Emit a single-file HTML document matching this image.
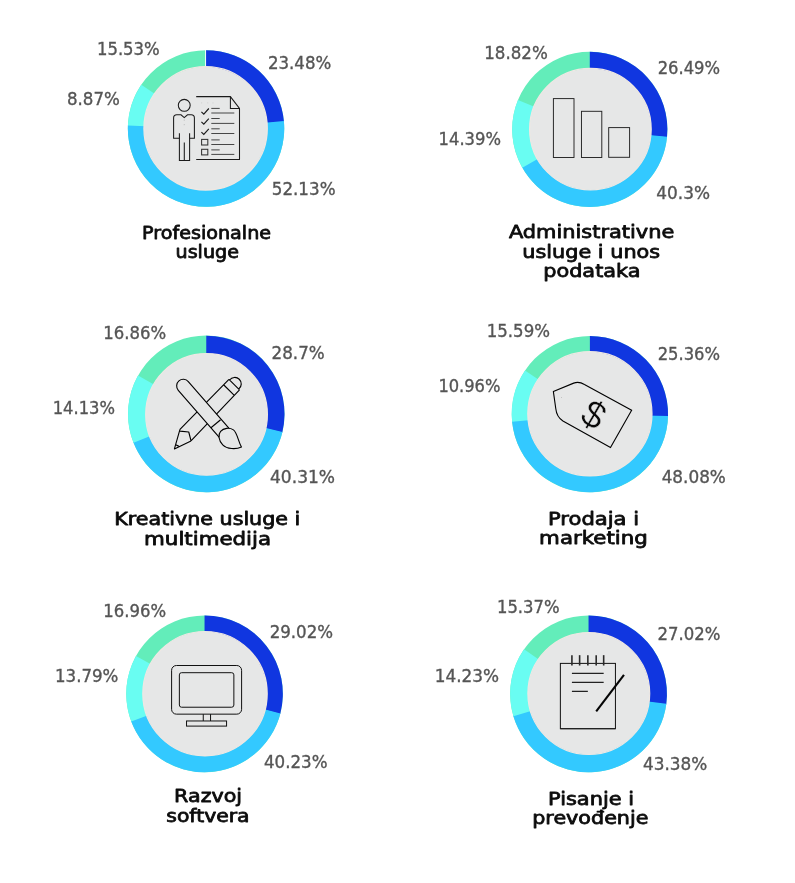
<!DOCTYPE html>
<html lang="hr"><head><meta charset="utf-8"><title>Kategorije usluga</title>
<style>
html,body{margin:0;padding:0;background:#fff;}
svg{display:block;}
.pct{font-family:"DejaVu Sans","Liberation Sans",sans-serif;font-size:17px;fill:#555;stroke:#555;stroke-width:0.35px;}
.ttl{font-family:"DejaVu Sans","Liberation Sans",sans-serif;font-size:18.2px;font-weight:400;fill:#0c0c0c;stroke:#0c0c0c;stroke-width:0.8px;stroke-linejoin:round;}
.ic{fill:none;stroke:#1a1a1a;stroke-width:1;}
</style></head><body>
<svg width="795" height="883" viewBox="0 0 795 883">
<rect width="795" height="883" fill="#fff"/>
<g>
<path d="M127.85,128.5A78.2,78.2 0 1 1 284.25,128.5A78.2,78.2 0 1 1 127.85,128.5ZM152.05,128.5A54,54 0 1 0 260.05,128.5A54,54 0 1 0 152.05,128.5Z" fill="#63edba" fill-rule="evenodd"/>
<path d="M206.05,50.30A78.2,78.2 0 0 1 283.95,121.71L259.85,123.81A54,54 0 0 0 206.05,74.50Z" fill="#1036e0"/>
<path d="M283.89,121.03A78.2,78.2 0 1 1 127.93,124.86L152.11,125.99A54,54 0 1 0 259.80,123.34Z" fill="#33c9ff"/>
<path d="M127.91,125.54A78.2,78.2 0 0 1 141.29,84.66L161.33,98.23A54,54 0 0 0 152.09,126.46Z" fill="#69fdf2"/>
<path d="M205.55,49.8V68.5" stroke="#fff" stroke-width="0.9" fill="none"/>
<circle cx="205.6" cy="128.4" r="61.70" fill="#e6e7e7" stroke="#eee8e3" stroke-width="1.2"/>
<g class="ic"><circle cx="184.25" cy="105.3" r="5.95" stroke-width="1.05"/><path d="M179.4,138.3H173.6V118.0Q173.6,114.8 176.8,114.8H181.0L184.25,117.6L187.5,114.8H191.2Q194.4,114.8 194.4,118.0V138.3H189.6" stroke-width="1.05"/><path d="M179.4,133.3V160.45H189.6V133.3M184.3,142.6V160.45" stroke-width="1.05"/><path d="M184.25,119.6v1M184.25,124.2v1" stroke="#999" stroke-width="0.6"/><path d="M196.2,96.6H230.4L239.5,108.4V159.5H196.2M230.4,96.6V108.4H239.5" stroke-width="1.05"/><path d="M201.3,102.9h0.8M207.4,102.9h0.8M212.6,102.9h0.8" stroke="#bbb" stroke-width="0.7"/><path d="M201.4,111.80L203.8,114.10L208.8,108.50" stroke-width="1.15"/><path d="M201.4,121.90L203.8,124.20L208.8,118.60" stroke-width="1.15"/><path d="M201.4,132.20L203.8,134.50L208.8,128.90" stroke-width="1.15"/><path d="M211.3,108.4H219.7" stroke="#444" stroke-width="1.0"/><path d="M211.3,113.0H234.3" stroke="#333" stroke-width="0.9"/><path d="M211.3,118.5H219.7" stroke="#444" stroke-width="1.0"/><path d="M211.3,123.4H234.3" stroke="#333" stroke-width="0.9"/><path d="M211.3,128.8H219.7" stroke="#444" stroke-width="1.0"/><path d="M211.3,133.5H234.3" stroke="#333" stroke-width="0.9"/><path d="M211.3,139.9H219.7" stroke="#444" stroke-width="1.0"/><path d="M211.3,144.5H234.3" stroke="#333" stroke-width="0.9"/><path d="M211.3,149.9H219.7" stroke="#444" stroke-width="1.0"/><path d="M211.3,154.4H234.3" stroke="#333" stroke-width="0.9"/><rect x="201.6" y="139.4" width="6.2" height="5.6" stroke="#333" stroke-width="1.05"/><rect x="201.6" y="149.3" width="6.2" height="5.6" stroke="#333" stroke-width="1.05"/></g>
<text id="p0_0" class="pct" x="267.96" y="69" textLength="63.33" lengthAdjust="spacingAndGlyphs">23.48%</text>
<text id="p0_1" class="pct" x="271.77" y="195" textLength="63.78" lengthAdjust="spacingAndGlyphs">52.13%</text>
<text id="p0_2" class="pct" x="66.95" y="105" textLength="52.89" lengthAdjust="spacingAndGlyphs">8.87%</text>
<text id="p0_3" class="pct" x="96.95" y="55" textLength="62.78" lengthAdjust="spacingAndGlyphs">15.53%</text>
<text id="t0_0" class="ttl" x="142.13" y="238.6" textLength="128.95" lengthAdjust="spacingAndGlyphs">Profesionalne</text>
<text id="t0_1" class="ttl" x="175.54" y="258.3" textLength="63.44" lengthAdjust="spacingAndGlyphs">usluge</text>
</g>
<g>
<path d="M512.20,129.4A77.6,77.6 0 1 1 667.40,129.4A77.6,77.6 0 1 1 512.20,129.4ZM535.80,129.4A54,54 0 1 0 643.80,129.4A54,54 0 1 0 535.80,129.4Z" fill="#63edba" fill-rule="evenodd"/>
<path d="M589.80,51.80A77.6,77.6 0 0 1 666.99,137.33L643.52,134.92A54,54 0 0 0 589.80,75.40Z" fill="#1036e0"/>
<path d="M667.06,136.65A77.6,77.6 0 0 1 521.97,167.09L542.60,155.63A54,54 0 0 0 643.56,134.45Z" fill="#33c9ff"/>
<path d="M522.30,167.68A77.6,77.6 0 0 1 517.98,100.02L539.82,108.95A54,54 0 0 0 542.83,156.04Z" fill="#69fdf2"/>
<circle cx="590.4" cy="129.2" r="60.80" fill="#e6e7e7" stroke="#eee8e3" stroke-width="1.2"/>
<g class="ic" style="stroke:#222;stroke-width:0.95"><rect x="553.4" y="98.6" width="20.6" height="58.9"/><rect x="581.45" y="111.3" width="20.35" height="46.2"/><rect x="608.7" y="127.6" width="20.9" height="29.7"/></g>
<text id="p1_0" class="pct" x="657.66" y="74" textLength="62.41" lengthAdjust="spacingAndGlyphs">26.49%</text>
<text id="p1_1" class="pct" x="656.30" y="199" textLength="53.69" lengthAdjust="spacingAndGlyphs">40.3%</text>
<text id="p1_2" class="pct" x="438.61" y="145" textLength="62.33" lengthAdjust="spacingAndGlyphs">14.39%</text>
<text id="p1_3" class="pct" x="484.22" y="59" textLength="63.55" lengthAdjust="spacingAndGlyphs">18.82%</text>
<text id="t1_0" class="ttl" x="508.91" y="237.7" textLength="165.34" lengthAdjust="spacingAndGlyphs">Administrativne</text>
<text id="t1_1" class="ttl" x="522.30" y="257.5" textLength="137.82" lengthAdjust="spacingAndGlyphs">usluge i unos</text>
<text id="t1_2" class="ttl" x="543.22" y="276.7" textLength="97.27" lengthAdjust="spacingAndGlyphs">podataka</text>
</g>
<g>
<path d="M128.02,413.9A78.25,78.25 0 1 1 284.52,413.9A78.25,78.25 0 1 1 128.02,413.9ZM152.27,413.9A54,54 0 1 0 260.27,413.9A54,54 0 1 0 152.27,413.9Z" fill="#63edba" fill-rule="evenodd"/>
<path d="M206.27,335.65A78.25,78.25 0 0 1 282.25,432.59L258.71,426.80A54,54 0 0 0 206.27,359.90Z" fill="#1036e0"/>
<path d="M282.41,431.93A78.25,78.25 0 0 1 133.25,442.02L155.88,433.31A54,54 0 0 0 258.82,426.34Z" fill="#33c9ff"/>
<path d="M133.50,442.66A78.25,78.25 0 0 1 138.03,375.60L159.18,387.47A54,54 0 0 0 156.05,433.75Z" fill="#69fdf2"/>
<circle cx="206.55" cy="414.4" r="60.85" fill="#e6e7e7" stroke="#eee8e3" stroke-width="1.2"/>
<g class="ic" style="stroke:#000;stroke-width:1.12;stroke-linejoin:round"><path d="M179.97,429.34L228.94,379.41M190.98,440.89L239.52,389.78M179.97,429.34L174.41,448.9L190.98,440.89M179.97,431.16L188.74,432.01L190.98,440.57M175.69,444.84L178.69,446.13M223.59,384.75L234.28,395.45M228.94,379.41L239.52,389.78M229.6,380.0A6.48,6.48 0 1 1 238.9,388.9"/><path d="M178.28,390.28A6.63,6.63 0 0 1 188.29,381.58L229.08,428.46L219.07,437.16Z" fill="#e6e7e7"/><path d="M210.97,427.73L220.6,419.72"/><path d="M241.45,446.98C236,449.6 227,449.2 222.73,444.84C218.5,440.6 218.0,434.5 220.6,431.48C223.5,428.0 229.5,427.3 233.43,429.87C237.2,432.6 238.2,441.5 241.45,446.98Z" fill="#e6e7e7"/></g>
<text id="p2_0" class="pct" x="271.56" y="359" textLength="53.17" lengthAdjust="spacingAndGlyphs">28.7%</text>
<text id="p2_1" class="pct" x="270.01" y="483" textLength="65.08" lengthAdjust="spacingAndGlyphs">40.31%</text>
<text id="p2_2" class="pct" x="52.69" y="414" textLength="62.30" lengthAdjust="spacingAndGlyphs">14.13%</text>
<text id="p2_3" class="pct" x="103.21" y="339" textLength="62.92" lengthAdjust="spacingAndGlyphs">16.86%</text>
<text id="t2_0" class="ttl" x="114.29" y="525.2" textLength="186.01" lengthAdjust="spacingAndGlyphs">Kreativne usluge i</text>
<text id="t2_1" class="ttl" x="144.08" y="544.5" textLength="126.97" lengthAdjust="spacingAndGlyphs">multimedija</text>
</g>
<g>
<path d="M511.75,414.15A78.15,78.15 0 1 1 668.05,414.15A78.15,78.15 0 1 1 511.75,414.15ZM535.90,414.15A54,54 0 1 0 643.90,414.15A54,54 0 1 0 535.90,414.15Z" fill="#63edba" fill-rule="evenodd"/>
<path d="M589.90,336.00A78.15,78.15 0 0 1 668.01,416.61L643.87,415.85A54,54 0 0 0 589.90,360.15Z" fill="#1036e0"/>
<path d="M668.03,415.93A78.15,78.15 0 0 1 512.06,421.08L536.11,418.94A54,54 0 0 0 643.89,415.38Z" fill="#33c9ff"/>
<path d="M512.12,421.76A78.15,78.15 0 0 1 525.01,370.60L545.06,384.05A54,54 0 0 0 536.16,419.41Z" fill="#69fdf2"/>
<circle cx="589.9" cy="413.8" r="62.10" fill="#e6e7e7" stroke="#eee8e3" stroke-width="1.2"/>
<g class="ic"><path d="M553.37,391.49L573.68,383.13Q579.06,381.2 584.44,384.56L631.64,410.25L610.49,447.54L562.93,421.01Q556.6,416.8 555.76,408.46Z" style="stroke:#000;stroke-width:1.1;stroke-linejoin:miter"/><circle cx="561.4" cy="397.3" r="0.35" fill="#777" stroke="none"/><text x="0" y="0" transform="translate(593.6,415.2) rotate(30)" text-anchor="middle" dy="12.2" style="font-family:'Liberation Sans',sans-serif;font-size:38px;fill:#0a0a0a;stroke:#e6e7e7;stroke-width:0.45px">$</text></g>
<text id="p3_0" class="pct" x="657.66" y="360" textLength="62.41" lengthAdjust="spacingAndGlyphs">25.36%</text>
<text id="p3_1" class="pct" x="661.67" y="483" textLength="64.22" lengthAdjust="spacingAndGlyphs">48.08%</text>
<text id="p3_2" class="pct" x="438.39" y="392" textLength="62.08" lengthAdjust="spacingAndGlyphs">10.96%</text>
<text id="p3_3" class="pct" x="486.71" y="337" textLength="63.27" lengthAdjust="spacingAndGlyphs">15.59%</text>
<text id="t3_0" class="ttl" x="547.91" y="524.7" textLength="91.20" lengthAdjust="spacingAndGlyphs">Prodaja i</text>
<text id="t3_1" class="ttl" x="539.12" y="544.0" textLength="108.63" lengthAdjust="spacingAndGlyphs">marketing</text>
</g>
<g>
<path d="M126.25,693.85A78.3,78.3 0 1 1 282.85,693.85A78.3,78.3 0 1 1 126.25,693.85ZM150.55,693.85A54,54 0 1 0 258.55,693.85A54,54 0 1 0 150.55,693.85Z" fill="#63edba" fill-rule="evenodd"/>
<path d="M204.55,615.55A78.3,78.3 0 0 1 280.19,714.08L256.72,707.80A54,54 0 0 0 204.55,639.85Z" fill="#1036e0"/>
<path d="M280.37,713.42A78.3,78.3 0 0 1 131.07,720.89L153.87,712.50A54,54 0 0 0 256.84,707.34Z" fill="#33c9ff"/>
<path d="M131.30,721.53A78.3,78.3 0 0 1 136.03,655.96L157.29,667.72A54,54 0 0 0 154.04,712.94Z" fill="#69fdf2"/>
<circle cx="205.0" cy="693.7" r="62.20" fill="#e6e7e7" stroke="#eee8e3" stroke-width="1.2"/>
<g class="ic" style="stroke:#111;stroke-width:1.0"><rect x="171.6" y="665.5" width="70.0" height="48.65" rx="4.8"/><rect x="179.36" y="672.69" width="54.5" height="34.53" rx="2.2"/><path d="M203.26,714.15V720.97M210.55,714.15V720.97"/><rect x="186.53" y="720.97" width="40.03" height="5.13"/></g>
<text id="p4_0" class="pct" x="269.68" y="638" textLength="63.42" lengthAdjust="spacingAndGlyphs">29.02%</text>
<text id="p4_1" class="pct" x="263.93" y="768" textLength="63.55" lengthAdjust="spacingAndGlyphs">40.23%</text>
<text id="p4_2" class="pct" x="54.98" y="682" textLength="63.48" lengthAdjust="spacingAndGlyphs">13.79%</text>
<text id="p4_3" class="pct" x="103.23" y="617" textLength="62.82" lengthAdjust="spacingAndGlyphs">16.96%</text>
<text id="t4_0" class="ttl" x="174.10" y="802.1" textLength="67.95" lengthAdjust="spacingAndGlyphs">Razvoj</text>
<text id="t4_1" class="ttl" x="166.31" y="822.0" textLength="83.31" lengthAdjust="spacingAndGlyphs">softvera</text>
</g>
<g>
<path d="M510.15,693.85A78.4,78.4 0 1 1 666.95,693.85A78.4,78.4 0 1 1 510.15,693.85ZM534.55,693.85A54,54 0 1 0 642.55,693.85A54,54 0 1 0 534.55,693.85Z" fill="#63edba" fill-rule="evenodd"/>
<path d="M588.55,615.45A78.4,78.4 0 0 1 666.23,704.45L642.05,701.15A54,54 0 0 0 588.55,639.85Z" fill="#1036e0"/>
<path d="M666.32,703.77A78.4,78.4 0 0 1 513.21,715.54L536.66,708.79A54,54 0 0 0 642.12,700.69Z" fill="#33c9ff"/>
<path d="M513.40,716.20A78.4,78.4 0 0 1 524.07,649.25L544.14,663.13A54,54 0 0 0 536.79,709.24Z" fill="#69fdf2"/>
<circle cx="588.8" cy="693.5" r="60.90" fill="#e6e7e7" stroke="#eee8e3" stroke-width="1.2"/>
<g class="ic"><rect x="560.37" y="663.39" width="55.06" height="65.3" stroke="#111" stroke-width="1.0"/><path d="M560.37,728.6H615.43" stroke="#222" stroke-width="1.4"/><path d="M571.92,655.16V665.53" stroke="#2a2a2a" stroke-width="1.6"/><path d="M579.62,655.16V665.53" stroke="#2a2a2a" stroke-width="1.6"/><path d="M587.85,655.16V665.53" stroke="#2a2a2a" stroke-width="1.6"/><path d="M596.19,655.16V665.53" stroke="#2a2a2a" stroke-width="1.6"/><path d="M603.67,655.16V665.53" stroke="#2a2a2a" stroke-width="1.6"/><path d="M571.92,673.33H603.67M571.92,682.31H603.67M571.92,691.3H587.85" stroke="#222" stroke-width="1.2"/><path d="M596.19,711.29L623.99,674.94" stroke="#050505" stroke-width="2.1"/></g>
<text id="p5_0" class="pct" x="657.61" y="640" textLength="62.92" lengthAdjust="spacingAndGlyphs">27.02%</text>
<text id="p5_1" class="pct" x="642.96" y="770" textLength="64.30" lengthAdjust="spacingAndGlyphs">43.38%</text>
<text id="p5_2" class="pct" x="434.68" y="682" textLength="64.36" lengthAdjust="spacingAndGlyphs">14.23%</text>
<text id="p5_3" class="pct" x="496.96" y="613" textLength="62.66" lengthAdjust="spacingAndGlyphs">15.37%</text>
<text id="t5_0" class="ttl" x="548.01" y="804.7" textLength="86.05" lengthAdjust="spacingAndGlyphs">Pisanje i</text>
<text id="t5_1" class="ttl" x="532.24" y="824.0" textLength="116.20" lengthAdjust="spacingAndGlyphs">prevođenje</text>
</g>
</svg>
</body></html>
